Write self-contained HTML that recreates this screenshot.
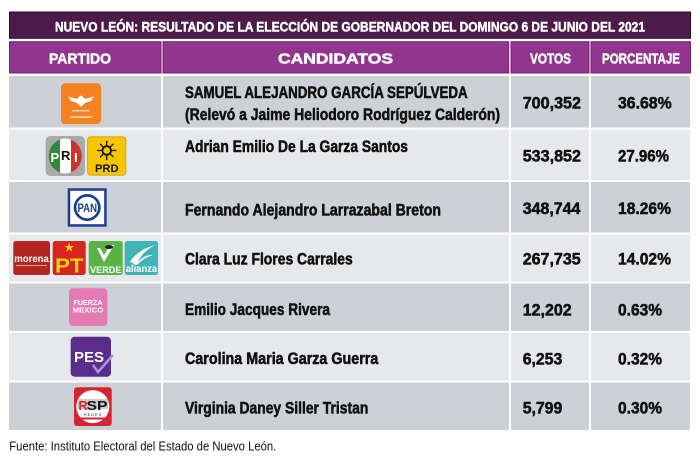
<!DOCTYPE html>
<html><head><meta charset="utf-8">
<style>
html,body{margin:0;padding:0;background:#fff;}
svg{display:block;}
text{font-family:"Liberation Sans",sans-serif;}
.b{font-weight:bold;}
.k{stroke:#111;stroke-width:0.55;stroke-linejoin:round;}
.w{stroke:#fff;stroke-width:0.5;stroke-linejoin:round;}
</style></head>
<body>
<svg width="700" height="457" viewBox="0 0 700 457" xmlns="http://www.w3.org/2000/svg">
<rect width="700" height="457" fill="#ffffff"/>
<!-- Title bar -->
<rect x="9.5" y="12" width="681" height="26.3" fill="#4c1b4a" stroke="#2c0c2a" stroke-width="1"/>
<text x="55" y="31.3" font-size="14" class="b w" fill="#fff" textLength="590" lengthAdjust="spacingAndGlyphs">NUEVO LEÓN: RESULTADO DE LA ELECCIÓN DE GOBERNADOR DEL DOMINGO 6 DE JUNIO DEL 2021</text>
<!-- Header -->
<g fill="#92358f" stroke="#74226f" stroke-width="1">
<rect x="9.5" y="41.7" width="151.5" height="31.3"/>
<rect x="163" y="41.7" width="345.7" height="31.3"/>
<rect x="511" y="41.7" width="78" height="31.3"/>
<rect x="591" y="41.7" width="99.5" height="31.3"/>
</g>
<g fill="#fff" font-size="15">
<text x="49" y="63.3" class="b w" textLength="62" lengthAdjust="spacingAndGlyphs">PARTIDO</text>
<text x="278" y="63.3" class="b w" textLength="115" lengthAdjust="spacingAndGlyphs">CANDIDATOS</text>
<text x="530" y="63.3" class="b w" textLength="41" lengthAdjust="spacingAndGlyphs">VOTOS</text>
<text x="602" y="63.3" class="b w" textLength="78" lengthAdjust="spacingAndGlyphs">PORCENTAJE</text>
</g>
<!-- Rows -->
<g>
<rect x="9" y="76" width="152" height="51.5" fill="#cdd1d5"/><rect x="163" y="76" width="346" height="51.5" fill="#cdd1d5"/><rect x="511" y="76" width="78" height="51.5" fill="#cdd1d5"/><rect x="591" y="76" width="99" height="51.5" fill="#cdd1d5"/>
<rect x="9" y="129.5" width="152" height="50.5" fill="#e6e8eb"/><rect x="163" y="129.5" width="346" height="50.5" fill="#e6e8eb"/><rect x="511" y="129.5" width="78" height="50.5" fill="#e6e8eb"/><rect x="591" y="129.5" width="99" height="50.5" fill="#e6e8eb"/>
<rect x="9" y="182" width="152" height="50.5" fill="#cdd1d5"/><rect x="163" y="182" width="346" height="50.5" fill="#cdd1d5"/><rect x="511" y="182" width="78" height="50.5" fill="#cdd1d5"/><rect x="591" y="182" width="99" height="50.5" fill="#cdd1d5"/>
<rect x="9" y="234.5" width="152" height="47" fill="#e6e8eb"/><rect x="163" y="234.5" width="346" height="47" fill="#e6e8eb"/><rect x="511" y="234.5" width="78" height="47" fill="#e6e8eb"/><rect x="591" y="234.5" width="99" height="47" fill="#e6e8eb"/>
<rect x="9" y="283.5" width="152" height="47.5" fill="#cdd1d5"/><rect x="163" y="283.5" width="346" height="47.5" fill="#cdd1d5"/><rect x="511" y="283.5" width="78" height="47.5" fill="#cdd1d5"/><rect x="591" y="283.5" width="99" height="47.5" fill="#cdd1d5"/>
<rect x="9" y="333" width="152" height="47.5" fill="#e6e8eb"/><rect x="163" y="333" width="346" height="47.5" fill="#e6e8eb"/><rect x="511" y="333" width="78" height="47.5" fill="#e6e8eb"/><rect x="591" y="333" width="99" height="47.5" fill="#e6e8eb"/>
<rect x="9" y="382.5" width="152" height="47.5" fill="#cdd1d5"/><rect x="163" y="382.5" width="346" height="47.5" fill="#cdd1d5"/><rect x="511" y="382.5" width="78" height="47.5" fill="#cdd1d5"/><rect x="591" y="382.5" width="99" height="47.5" fill="#cdd1d5"/>
</g>
<!-- Candidate names -->
<g fill="#111" font-size="16.5">
<text x="185" y="98" class="b k" textLength="282.7" lengthAdjust="spacingAndGlyphs">SAMUEL ALEJANDRO GARCÍA SEPÚLVEDA</text>
<text x="185" y="120" class="b k" textLength="315" lengthAdjust="spacingAndGlyphs">(Relevó a Jaime Heliodoro Rodríguez Calderón)</text>
<text x="185" y="152" class="b k" textLength="223" lengthAdjust="spacingAndGlyphs">Adrian Emilio De La Garza Santos</text>
<text x="185" y="215.3" class="b k" textLength="256" lengthAdjust="spacingAndGlyphs">Fernando Alejandro Larrazabal Breton</text>
<text x="185" y="264.3" class="b k" textLength="167.7" lengthAdjust="spacingAndGlyphs">Clara Luz Flores Carrales</text>
<text x="185" y="315" class="b k" textLength="145" lengthAdjust="spacingAndGlyphs">Emilio Jacques Rivera</text>
<text x="185" y="364" class="b k" textLength="193.3" lengthAdjust="spacingAndGlyphs">Carolina Maria Garza Guerra</text>
<text x="185" y="413.3" class="b k" textLength="183.3" lengthAdjust="spacingAndGlyphs">Virginia Daney Siller Tristan</text>
</g>
<!-- Votes -->
<g fill="#111" font-size="17">
<text x="522.7" y="108.3" class="b k" textLength="58.3" lengthAdjust="spacingAndGlyphs">700,352</text>
<text x="522.7" y="161.7" class="b k" textLength="58.3" lengthAdjust="spacingAndGlyphs">533,852</text>
<text x="522.7" y="214" class="b k" textLength="57.7" lengthAdjust="spacingAndGlyphs">348,744</text>
<text x="522.7" y="264.3" class="b k" textLength="58" lengthAdjust="spacingAndGlyphs">267,735</text>
<text x="522.7" y="315.3" class="b k" textLength="49" lengthAdjust="spacingAndGlyphs">12,202</text>
<text x="522.7" y="364.3" class="b k" textLength="39.6" lengthAdjust="spacingAndGlyphs">6,253</text>
<text x="522.7" y="413.7" class="b k" textLength="39.6" lengthAdjust="spacingAndGlyphs">5,799</text>
<text x="618" y="108.3" class="b k" textLength="53.7" lengthAdjust="spacingAndGlyphs">36.68%</text>
<text x="618" y="161.7" class="b k" textLength="51" lengthAdjust="spacingAndGlyphs">27.96%</text>
<text x="618" y="214" class="b k" textLength="53" lengthAdjust="spacingAndGlyphs">18.26%</text>
<text x="618" y="264.3" class="b k" textLength="53" lengthAdjust="spacingAndGlyphs">14.02%</text>
<text x="618" y="315.3" class="b k" textLength="44" lengthAdjust="spacingAndGlyphs">0.63%</text>
<text x="618" y="364.3" class="b k" textLength="44" lengthAdjust="spacingAndGlyphs">0.32%</text>
<text x="618" y="413.7" class="b k" textLength="44" lengthAdjust="spacingAndGlyphs">0.30%</text>
</g>
<!-- Footer -->
<text x="9.3" y="450.7" font-size="12.5" fill="#111" textLength="267" lengthAdjust="spacingAndGlyphs">Fuente: Instituto Electoral del Estado de Nuevo León.</text>

<!-- Logos -->
<rect x="61" y="83.3" width="40" height="40.7" rx="4" fill="#f58220"/>
<path d="M68 96.5 L77 99 L81 95 L85 99 L94 96.5 L91 101 L85 103 L81 106.7 L77 103 L71 101 Z" fill="#fff"/>
<rect x="72" y="110" width="18" height="1.3" fill="#fde0c4"/>
<rect x="70" y="116.3" width="22" height="1.6" fill="#fde0c4"/>

<rect x="45.7" y="136" width="39.3" height="40" rx="5" fill="#a9a9a9"/>
<clipPath id="pric"><ellipse cx="65.3" cy="156" rx="16.5" ry="17.5"/></clipPath>
<g clip-path="url(#pric)">
<rect x="48" y="137" width="12" height="38" fill="#2f8a3c"/>
<rect x="60" y="137" width="11" height="38" fill="#ffffff"/>
<rect x="71" y="137" width="12" height="38" fill="#d1302b"/>
</g>
<text x="50.5" y="162" font-size="13" class="b" fill="#fff">P</text>
<text x="61" y="160" font-size="13" class="b" fill="#111">R</text>
<text x="74" y="162" font-size="13" class="b" fill="#fff">I</text>

<rect x="87.5" y="136.8" width="38.4" height="38.4" rx="3" fill="#f5c500" stroke="#c9a000" stroke-width="0.8"/>
<g stroke="#111" stroke-width="1.3">
<line x1="106.7" y1="141" x2="106.7" y2="160"/>
<line x1="97.2" y1="150.5" x2="116.2" y2="150.5"/>
<line x1="100" y1="143.8" x2="113.4" y2="157.2"/>
<line x1="113.4" y1="143.8" x2="100" y2="157.2"/>
</g>
<circle cx="106.7" cy="150.5" r="5.2" fill="#111"/>
<circle cx="106.7" cy="150.5" r="3.4" fill="#f5c500"/>
<text x="95" y="172" font-size="11" class="b" fill="#111" textLength="23.5" lengthAdjust="spacingAndGlyphs">PRD</text>

<rect x="67.7" y="188.3" width="39" height="38.4" fill="#1c3e92"/>
<rect x="70.2" y="190.8" width="34" height="33.4" fill="#fff"/>
<circle cx="87.2" cy="207.5" r="13.5" fill="#1c3e92"/>
<circle cx="87.2" cy="207.5" r="10.8" fill="#fff"/>
<text x="77.5" y="212" font-size="11.5" class="b" fill="#1c3e92" textLength="19.5" lengthAdjust="spacingAndGlyphs">PAN</text>

<rect x="13.3" y="241" width="36.7" height="34" rx="2.5" fill="#b1271f"/>
<text x="14.3" y="262" font-size="10" class="b" fill="#fff" textLength="34.5" lengthAdjust="spacingAndGlyphs">morena</text>
<rect x="16" y="265" width="31" height="1" fill="#e3a09a"/>

<rect x="52.7" y="241" width="33" height="34" rx="2.5" fill="#d7261d"/>
<polygon points="69.2,242.5 70.4,246 74,246 71.1,248.1 72.2,251.6 69.2,249.5 66.2,251.6 67.3,248.1 64.4,246 68,246" fill="#f7d11a"/>
<text x="55" y="272.5" font-size="20" class="b" fill="#f7d11a" textLength="28.5" lengthAdjust="spacingAndGlyphs">PT</text>

<rect x="88.7" y="241" width="34" height="34" rx="2.5" fill="#59b445"/>
<path d="M97 248 L104 262 L114 245 L110 245 L104 255 L100 248 Z" fill="#fff"/>
<ellipse cx="109" cy="247" rx="4" ry="2" fill="#222"/>
<text x="90" y="273" font-size="9" class="b" fill="#fff" textLength="31.5" lengthAdjust="spacingAndGlyphs">VERDE</text>

<rect x="124.7" y="241" width="33.3" height="34" rx="2.5" fill="#3fb5b7"/>
<path d="M130 262 Q137 250 155 245 Q142 252 138 262 Q145 254 153 255 Q143 258 137 265 Z" fill="#fff"/>
<text x="125.7" y="272" font-size="10" class="b" fill="#fff" textLength="31.5" lengthAdjust="spacingAndGlyphs">alianza</text>

<rect x="69" y="288.3" width="38.3" height="37.7" rx="4" fill="#e37ab4"/>
<text x="73.5" y="305" font-size="7" class="b" fill="#fff" textLength="29" lengthAdjust="spacingAndGlyphs">FUERZA</text>
<text x="72.5" y="312.5" font-size="7" class="b" fill="#fff" textLength="31" lengthAdjust="spacingAndGlyphs">MEXICO</text>

<rect x="70.7" y="336.7" width="40.3" height="40" rx="4" fill="#5a2c8c"/>
<text x="74" y="362" font-size="15" class="b" fill="#fff" textLength="30" lengthAdjust="spacingAndGlyphs">PES</text>
<path d="M93 365 L98 372 L113 355" fill="none" stroke="#a996d8" stroke-width="2.5"/>

<rect x="74" y="387.3" width="37.7" height="38.7" rx="3" fill="#d52531"/>
<circle cx="92.8" cy="406.6" r="16.5" fill="#fff"/>
<rect x="78" y="399" width="30" height="10" fill="#333" opacity="0.25"/>
<text x="78.5" y="410" font-size="13" class="b" fill="#d52531" textLength="9" lengthAdjust="spacingAndGlyphs">R</text>
<text x="86.5" y="410" font-size="13" class="b" fill="#111" textLength="21" lengthAdjust="spacingAndGlyphs">SP</text>
<text x="84" y="416" font-size="4" fill="#111" textLength="17" lengthAdjust="spacingAndGlyphs">R E D E S</text>
<rect x="80" y="417.5" width="26" height="2" fill="#d52531"/>
</svg>
</body></html>
